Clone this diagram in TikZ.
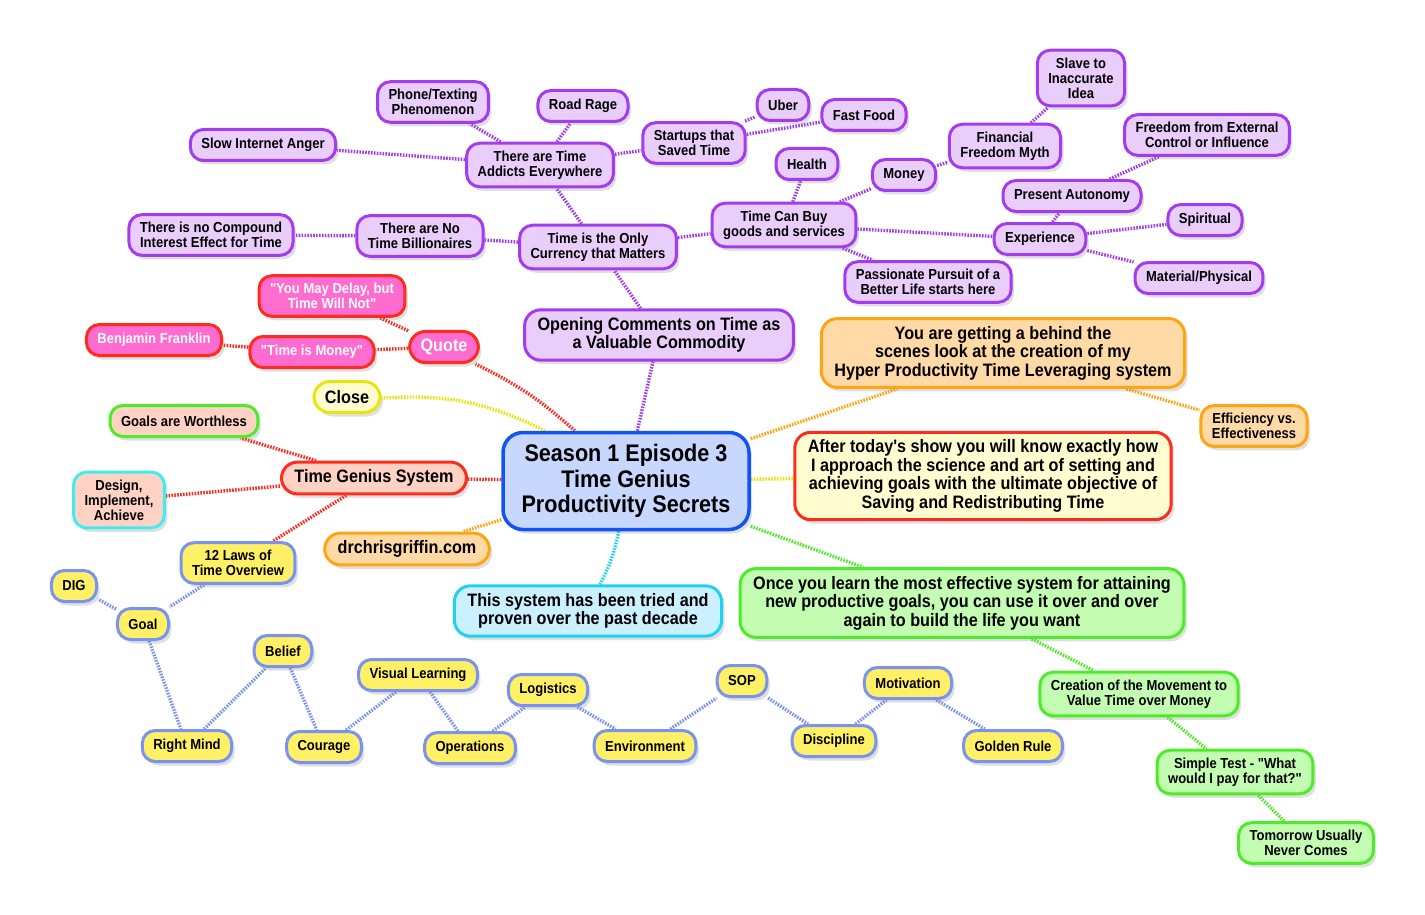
\documentclass[tikz,border=0pt]{standalone}
\usepackage{fontspec}
\setmainfont{Liberation Sans}[FakeStretch=0.9,Ligatures=TeXOff]
\usetikzlibrary{shadows,backgrounds}

\definecolor{pfill}{HTML}{E9CDFB}
\definecolor{pline}{HTML}{A33CEE}
\definecolor{cfill}{HTML}{C8D7FE}
\definecolor{cline}{HTML}{1254F2}
\definecolor{kfill}{HTML}{FF6CD0}
\definecolor{rline}{HTML}{FF2B1C}
\definecolor{sfill}{HTML}{FFD2C3}
\definecolor{gline}{HTML}{4EEC28}
\definecolor{gfill}{HTML}{C2FDB2}
\definecolor{tline}{HTML}{3EEDF2}
\definecolor{yfill}{HTML}{FFF066}
\definecolor{bline}{HTML}{7A92F2}
\definecolor{lyfill}{HTML}{FFFDD0}
\definecolor{yline}{HTML}{E6E60A}
\definecolor{ofill}{HTML}{FFD9A6}
\definecolor{oline}{HTML}{FFA412}
\definecolor{cyfill}{HTML}{CBF0FF}
\definecolor{cyline}{HTML}{20D2F2}

\tikzset{
  mm/.style={draw,line width=3pt,rounded corners=13pt,align=center,
    inner xsep=11pt,inner ysep=7.5pt,minimum height=31pt,
    font=\fontsize{14.5}{15}\selectfont\bfseries,
    drop shadow={shadow xshift=3pt,shadow yshift=-4pt,opacity=0.25}},
  big/.style={font=\fontsize{18}{18.5}\selectfont\bfseries,rounded corners=16pt,inner xsep=13pt},
  pbox/.style={mm,fill=pfill,draw=pline},
  kbox/.style={mm,fill=kfill,draw=rline,text=white},
  sbox/.style={mm,fill=sfill,draw=rline},
  ybox/.style={mm,fill=yfill,draw=bline},
  obox/.style={mm,fill=ofill,draw=oline},
  gbox/.style={mm,fill=gfill,draw=gline},
  link/.style={line width=3.4pt,dash pattern=on 1.6pt off 1.3pt},
}

\begin{document}
\begin{tikzpicture}[x=1pt,y=-1pt]
\useasboundingbox (0,0) rectangle (1425,915);

% centre
\node[mm,fill=cfill,draw=cline,line width=3.5pt,rounded corners=20pt,
  font=\fontsize{24}{25.5}\selectfont\bfseries,minimum width=246pt,minimum height=97pt]
  (S1) at (626,481) {Season 1 Episode 3\\Time Genius\\Productivity Secrets};

% purple branch
\node[pbox,big] (open) at (659,335) {Opening Comments on Time as\\a Valuable Commodity};
\node[pbox] (only) at (598,247) {Time is the Only\\Currency that Matters};
\node[pbox] (billion) at (420,236) {There are No\\Time Billionaires};
\node[pbox] (compound) at (211,235) {There is no Compound\\Interest Effect for Time};
\node[pbox] (addicts) at (540,165) {There are Time\\Addicts Everywhere};
\node[pbox] (slow) at (263,145) {Slow Internet Anger};
\node[pbox] (phone) at (433,102) {Phone/Texting\\Phenomenon};
\node[pbox] (road) at (583,106) {Road Rage};
\node[pbox] (startups) at (694,143) {Startups that\\Saved Time};
\node[pbox] (uber) at (783,105) {Uber};
\node[pbox] (fastfood) at (864,115) {Fast Food};
\node[pbox] (buy) at (784,225) {Time Can Buy\\goods and services};
\node[pbox] (health) at (807,164) {Health};
\node[pbox] (money) at (904,175) {Money};
\node[pbox] (myth) at (1005,146) {Financial\\Freedom Myth};
\node[pbox] (slave) at (1081,78) {Slave to\\Inaccurate\\Idea};
\node[pbox] (passion) at (928,282) {Passionate Pursuit of a\\Better Life starts here};
\node[pbox] (experience) at (1040,239) {Experience};
\node[pbox] (autonomy) at (1072,196) {Present Autonomy};
\node[pbox] (freedom) at (1207,135) {Freedom from External\\Control or Influence};
\node[pbox] (spiritual) at (1205,220) {Spiritual};
\node[pbox] (material) at (1199,278) {Material/Physical};

% quote branch
\node[kbox,big,inner xsep=11pt] (quote) at (444,347) {Quote};
\node[kbox] (delay) at (332,296) {"You May Delay, but\\Time Will Not"};
\node[kbox] (tim) at (312,352) {"Time is Money"};
\node[kbox] (franklin) at (154,340) {Benjamin Franklin};

\node[mm,big,inner xsep=11pt,fill=lyfill,draw=yline] (close) at (347,397) {Close};

% system branch
\node[sbox,big] (tgs) at (374,478) {Time Genius System};
\node[sbox,draw=gline] (worthless) at (184,421) {Goals are Worthless};
\node[sbox,draw=tline] (design) at (119,500) {Design,\\Implement,\\Achieve};

\node[ybox] (laws) at (238,563) {12 Laws of\\Time Overview};
\node[ybox] (dig) at (74,586) {DIG};
\node[ybox] (goal) at (143,624) {Goal};
\node[ybox] (rightmind) at (187,746) {Right Mind};
\node[ybox] (belief) at (283,651) {Belief};
\node[ybox] (courage) at (324,747) {Courage};
\node[ybox] (visual) at (418,675) {Visual Learning};
\node[ybox] (operations) at (470,748) {Operations};
\node[ybox] (logistics) at (548,690) {Logistics};
\node[ybox] (environment) at (645,746) {Environment};
\node[ybox] (sop) at (742,681) {SOP};
\node[ybox] (discipline) at (834,741) {Discipline};
\node[ybox] (motivation) at (908,683) {Motivation};
\node[ybox] (golden) at (1013,746) {Golden Rule};

\node[obox,big] (web) at (407,549) {drchrisgriffin.com};
\node[mm,big,fill=cyfill,draw=cyline] (tried) at (588,611) {This system has been tried and\\proven over the past decade};

% right side
\node[obox,big] (behind) at (1003,353) {You are getting a behind the\\scenes look at the creation of my\\Hyper Productivity Time Leveraging system};
\node[obox] (eff) at (1254,426) {Efficiency vs.\\Effectiveness};
\node[mm,big,fill=lyfill,draw=rline] (after) at (983,476) {After today's show you will know exactly how\\I approach the science and art of setting and\\achieving goals with the ultimate objective of\\Saving and Redistributing Time};
\node[gbox,big] (once) at (962,603) {Once you learn the most effective system for attaining\\new productive goals, you can use it over and over\\again to build the life you want};
\node[gbox] (creation) at (1139,694) {Creation of the Movement to\\Value Time over Money};
\node[gbox] (simple) at (1235,772) {Simple Test - "What\\would I pay for that?"};
\node[gbox] (tomorrow) at (1306,843) {Tomorrow Usually\\Never Comes};

\begin{scope}[on background layer]
\path[link,draw=pline]
  (S1) edge (open) (open) edge (only)
  (only) edge (billion) (billion) edge (compound)
  (only) edge (addicts) (addicts) edge (slow) (addicts) edge (phone)
  (addicts) edge (road) (addicts) edge (startups)
  (startups) edge (uber) (startups) edge (fastfood)
  (only) edge (buy) (buy) edge (health) (buy) edge (money)
  (money) edge (myth) (myth) edge (slave) (buy) edge (passion)
  (buy) edge (experience) (experience) edge (autonomy)
  (autonomy) edge (freedom) (experience) edge (spiritual)
  (experience) edge (material);
\path[link,draw=rline]
  (S1) edge[bend right=8] (quote) (quote) edge (delay)
  (quote) edge (tim) (tim) edge (franklin)
  (S1) edge (tgs) (tgs) edge (worthless) (tgs) edge (design)
  (tgs) edge (laws);
\path[link,draw=yline]
  (S1) edge[bend right=15] (close) (S1) edge (after);
\path[link,draw=oline]
  (S1) edge (web) (S1) edge (behind) (behind) edge (eff);
\path[link,draw=cyline] (S1) edge[bend left=8] (tried);
\path[link,draw=gline]
  (S1) edge (once) (once) edge (creation)
  (creation) edge (simple) (simple) edge (tomorrow);
\foreach \a/\b in {laws/goal,goal/dig,goal/rightmind,rightmind/belief,
  belief/courage,courage/visual,visual/operations,operations/logistics,
  logistics/environment,environment/sop,sop/discipline,
  discipline/motivation,motivation/golden}
  \draw[link,draw=bline] (\a) -- (\b);
\end{scope}
\end{tikzpicture}
\end{document}
